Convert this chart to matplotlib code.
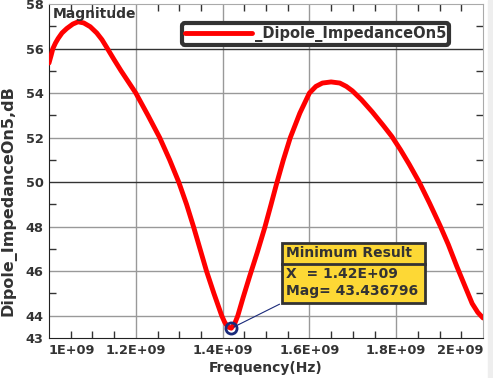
import numpy as np
import matplotlib
matplotlib.use('Agg')
import matplotlib.pyplot as plt
from matplotlib.patches import Rectangle

plt.rcParams['font.family'] = ['DejaVu Sans']
plt.rcParams['font.weight'] = 'bold'
plt.rcParams['axes.labelweight'] = 'bold'

# frequency (GHz) and magnitude (dB)
freq_ghz = [1.000, 1.005, 1.009, 1.015, 1.021, 1.030, 1.041, 1.055, 1.067, 1.080,
            1.095, 1.110, 1.122, 1.133, 1.150, 1.166, 1.183, 1.200, 1.228, 1.255,
            1.278, 1.299, 1.317, 1.333, 1.348, 1.363, 1.380, 1.398, 1.405, 1.412,
            1.420, 1.428, 1.435, 1.447, 1.462, 1.480, 1.497, 1.511, 1.524, 1.540,
            1.556, 1.578, 1.600, 1.615, 1.630, 1.650, 1.670, 1.685, 1.699, 1.720,
            1.745, 1.770, 1.790, 1.810, 1.830, 1.853, 1.877, 1.901, 1.920, 1.940,
            1.958, 1.975, 1.988, 2.000]
mag_db = [55.35, 55.70, 56.00, 56.25, 56.45, 56.70, 56.90, 57.10, 57.20, 57.15,
          56.98, 56.70, 56.40, 56.05, 55.50, 55.00, 54.50, 54.00, 53.00, 52.00,
          51.00, 50.00, 49.00, 48.00, 47.00, 46.00, 45.00, 44.00, 43.70, 43.50,
          43.44, 43.65, 44.00, 44.80, 45.75, 46.85, 47.95, 48.95, 49.90, 51.00,
          52.00, 53.10, 54.00, 54.30, 54.45, 54.50, 54.45, 54.30, 54.10, 53.70,
          53.15, 52.55, 52.05, 51.45, 50.80, 50.00, 49.05, 48.05, 47.20, 46.20,
          45.35, 44.55, 44.15, 43.90]
min_x = 1.42e9
min_mag = 43.436796

xticks = [1.0e9, 1.2e9, 1.4e9, 1.6e9, 1.8e9, 2.0e9]
xticklabels = ['1E+09', '1.2E+09', '1.4E+09', '1.6E+09', '1.8E+09', '2E+09']
yticks = [43, 44, 46, 48, 50, 52, 54, 56, 58]
series_name = '_Dipole_ImpedanceOn5'

txt = '#333333'
fig = plt.figure(figsize=(4.93, 3.78), dpi=100)
fig.patches.append(Rectangle((488 / 493, 0), 5 / 493, 1, transform=fig.transFigure,
                             color='#eeeeee', zorder=0))
ax = fig.add_axes([49 / 493, 40 / 378, 434 / 493, 334 / 378])

freq = np.array(freq_ghz) * 1e9
line, = ax.plot(freq, mag_db, color='red', lw=3.5, solid_capstyle='round',
                solid_joinstyle='round', zorder=3)

ax.set_xlim(1.0e9, 2.0e9)
ax.set_ylim(43, 58)

# grid
for v in [1.2e9, 1.4e9, 1.6e9, 1.8e9]:
    ax.axvline(v, color='#999999', lw=1, zorder=1)
for v in [44, 46, 48, 50, 52, 54, 56]:
    ax.axhline(v, color='#333333' if v in (50, 56) else '#999999', lw=1, zorder=1)

ax.set_xticks(xticks)
ax.set_xticklabels(xticklabels)
ax.set_xticks(np.arange(1.0e9, 2.0e9 + 1, 0.05e9), minor=True)
ax.set_yticks(yticks)
ax.set_yticks(np.arange(45, 58, 2), minor=True)
ax.tick_params(which='both', direction='in', top=True, right=True, colors='#333333',
               labelsize=9.3, labelcolor=txt)
ax.tick_params(which='major', length=0, pad=4)
ax.tick_params(which='minor', length=5, width=1)
labs = ax.get_xticklabels()
labs[0].set_ha('left')
labs[-1].set_ha('right')
for s in ['top', 'right']:
    ax.spines[s].set_color('#aaaaaa')
for s in ['left', 'bottom']:
    ax.spines[s].set_color('#222222')

ax.set_xlabel('Frequency(Hz)', fontsize=10, color=txt, labelpad=3)
ax.set_ylabel('Dipole_ImpedanceOn5,dB', fontsize=11.5, color=txt)
ax.yaxis.set_label_coords(-0.075, 0.41)

ax.text(0.008, 0.99, 'Magnitude', transform=ax.transAxes, fontsize=10, color=txt,
        va='top', ha='left')

leg = ax.legend([line], [series_name], loc='upper left', bbox_to_anchor=(0.29, 0.965),
                fontsize=10.5, handlelength=4.6, handletextpad=0.2, borderpad=0.2,
                fancybox=True, framealpha=1, labelcolor=txt)
leg.get_frame().set_edgecolor('#333333')
leg.get_frame().set_linewidth(3)
leg.legend_handles[0].set_linewidth(3.5)

# minimum marker + annotation box
ax.plot([min_x], [min_mag], 'o', ms=8, mfc='none', mec='#1a2a7a', mew=2, zorder=5)
bx0, bx1, by0, by1, bmid = 0.537, 0.866, 0.105, 0.284, 0.223
ax.add_patch(Rectangle((bx0, by0), bx1 - bx0, by1 - by0, transform=ax.transAxes,
                       facecolor='#fdd835', edgecolor='#333333', lw=2, zorder=6))
ax.plot([bx0, bx1], [bmid, bmid], transform=ax.transAxes, color='#333333', lw=2, zorder=7)
ax.annotate('', xy=(min_x, min_mag), xytext=(bx0, by0), textcoords='axes fraction',
            arrowprops=dict(arrowstyle='-', color='#1a2a7a', lw=0.8), zorder=4)
ax.text(0.545, (by1 + bmid) / 2, 'Minimum Result', transform=ax.transAxes, fontsize=10,
        color=txt, va='center', ha='left', zorder=8)
ax.text(0.545, bmid - 0.03, 'X  = %.2E' % min_x, transform=ax.transAxes, fontsize=10,
        color=txt, va='center', ha='left', zorder=8)
ax.text(0.545, by0 + 0.035, 'Mag= %.6f' % min_mag, transform=ax.transAxes, fontsize=10,
        color=txt, va='center', ha='left', zorder=8)

fig.savefig('out.png', dpi=100)
